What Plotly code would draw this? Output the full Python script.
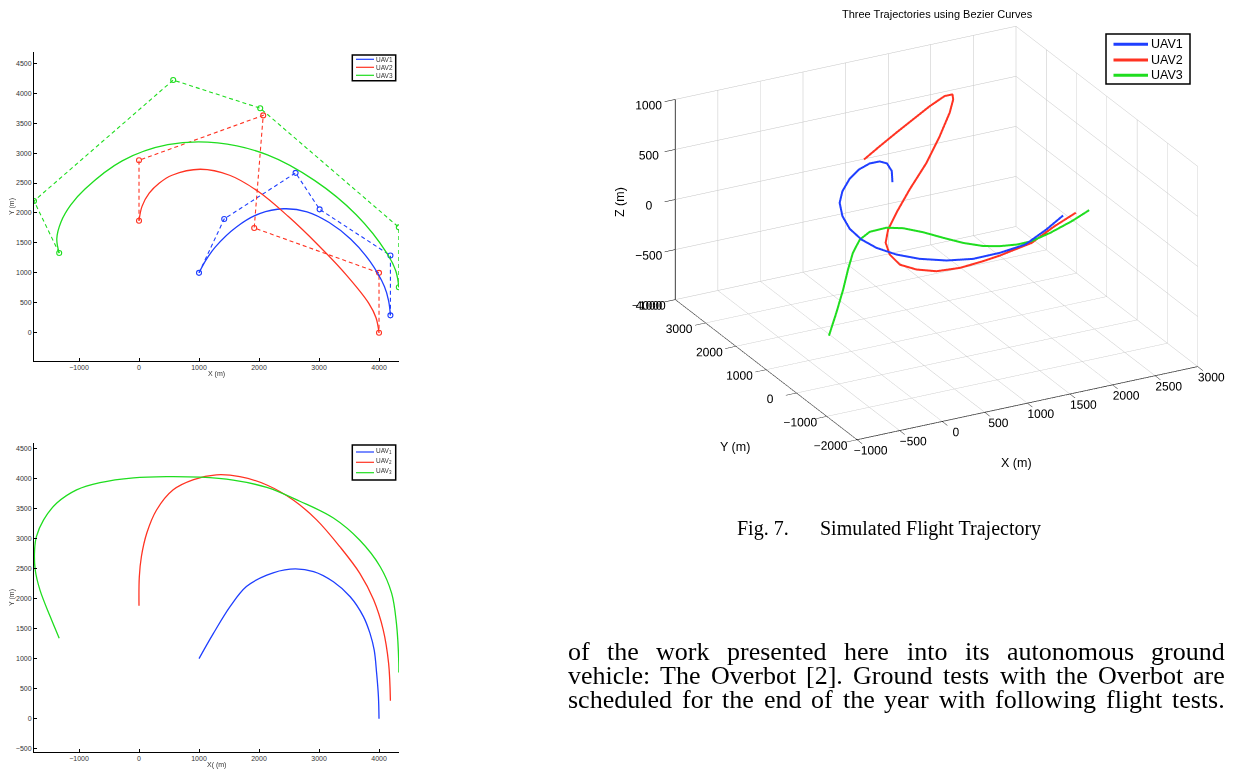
import plotly.graph_objects as go

# page body has an 8px margin, so the figure is drawn 8px smaller and coordinates are shifted
OFF = 8
W, H = 1248 - OFF, 769 - OFF

# ---------------- data: top-left plot (control polygons + Bezier paths) ----------------
ctrl1_x = [1000, 1420, 2610, 3010, 4190, 4190]
ctrl1_y = [1000, 1900, 2670, 2060, 1290, 290]
ctrl2_x = [0, 0, 2070, 1920, 4000, 4000]
ctrl2_y = [1870, 2880, 3630, 1750, 1000, 0]
ctrl3_x = [-1330, -1750, 570, 2020, 4330, 4330]
ctrl3_y = [1330, 2200, 4220, 3750, 1760, 760]

path1_x = [1000, 1120, 1270, 1630, 2010, 2410, 2800, 3170, 3530, 3850, 4090, 4160, 4190]
path1_y = [1000, 1220, 1430, 1770, 1990, 2070, 2020, 1840, 1560, 1190, 770, 530, 290]
path2_x = [0, 50, 170, 340, 550, 1020, 1510, 2000, 2490, 2980, 3450, 3830, 3950, 4000]
path2_y = [1870, 2110, 2330, 2500, 2630, 2730, 2630, 2350, 1940, 1470, 970, 490, 250, 0]
path3_x = [-1330, -1370, -1300, -1140, -900, -280, 480, 1310, 2140, 2930, 3620, 4130, 4280, 4330]
path3_y = [1330, 1570, 1850, 2130, 2400, 2870, 3140, 3170, 2970, 2540, 1970, 1330, 1030, 760]

# ---------------- data: bottom-left plot ----------------
b1_x = [1000, 1240, 1520, 1790, 2130, 2520, 2910, 3240, 3520, 3740, 3850, 3920, 3960, 3990, 4000]
b1_y = [1000, 1420, 1870, 2200, 2390, 2490, 2450, 2280, 2030, 1700, 1420, 1140, 760, 370, 0]
b2_x = [0, 5, 40, 130, 290, 570, 910, 1290, 1680, 2130, 2570, 2960, 3350, 3680, 3910, 4070, 4160, 4190]
b2_y = [1880, 2360, 2700, 3090, 3470, 3810, 3980, 4060, 4030, 3890, 3640, 3310, 2860, 2420, 1980, 1480, 920, 300]
b3_x = [-1330, -1480, -1650, -1730, -1740, -1710, -1590, -1370, -1040, -650, -90, 460, 1020, 1570,
        2130, 2680, 3240, 3680, 4020, 4210, 4290, 4330, 4330]
b3_y = [1340, 1700, 2140, 2480, 2810, 3030, 3310, 3590, 3810, 3930, 4010, 4030, 4020, 3970,
        3850, 3620, 3340, 2970, 2530, 2090, 1590, 920, 770]

# ---------------- data: 3D trajectories ----------------
u1_x = [838, 795, 704, 582, 429, 268, 123, 2, -66, -69, -19, 83, 224, 423, 661, 940, 1217, 1495, 1758, 1970, 2131]
u1_y = [2000, 1900, 1800, 1700, 1600, 1500, 1400, 1300, 1200, 1100, 1000, 900, 800, 700, 600, 500, 400, 300, 200, 100, 0]
u1_z = [304, 446, 562, 628, 659, 652, 609, 530, 450, 340, 228, 126, 40, -40, -103, -147, -158, -125, -67, 68, 202]

u2_x = [576, 807, 1051, 1294, 1537, 1761, 1899, 1847, 1749, 1572, 1356, 1101, 885, 727, 641, 629, 687, 824,
        1000, 1215, 1429, 1566, 1879, 2092, 2280]
u2_y = [2200, 2330, 2470, 2600, 2730, 2870, 3000, 2830, 2670, 2500, 2330, 2170, 2000, 1830, 1670, 1500, 1330,
        1170, 1000, 830, 670, 500, 330, 170, 0]
u2_z = [532, 592, 650, 708, 766, 793, 754, 753, 676, 514, 326, 144, -10, -110, -188, -264, -336, -372,
        -382, -348, -283, -212, -103, 63, 202]

u3_x = [-85, -27, 21, 50, 79, 128, 216, 383, 548, 754, 959, 1164, 1370, 1537, 1707, 1850, 2043, 2260, 2437]
u3_y = [1500, 1420, 1330, 1250, 1170, 1080, 1000, 920, 830, 750, 670, 580, 500, 420, 330, 250, 170, 80, 0]
u3_z = [-944, -708, -464, -250, -69, 75, 155, 184, 170, 111, 37, -31, -81, -94, -88, -62, 6, 102, 199]

names = ["UAV1", "UAV2", "UAV3"]
sub_names = ["UAV<sub>1</sub>", "UAV<sub>2</sub>", "UAV<sub>3</sub>"]
colors = ["#1f3fff", "#ff3322", "#1fdd1f"]

xticks2d = [-1000, 0, 1000, 2000, 3000, 4000]
yticks_top = [0, 500, 1000, 1500, 2000, 2500, 3000, 3500, 4000, 4500]
yticks_bot = [-500, 0, 500, 1000, 1500, 2000, 2500, 3000, 3500, 4000, 4500]
xticks3d = [-1000, -500, 0, 500, 1000, 1500, 2000, 2500, 3000]
yticks3d = [-2000, -1000, 0, 1000, 2000, 3000, 4000]
zticks3d = [-1000, -500, 0, 500, 1000]

caption = ["Fig. 7.", "Simulated Flight Trajectory"]
body = [
    "of the work presented here into its autonomous ground",
    "vehicle: The Overbot [2]. Ground tests with the Overbot are",
    "scheduled for the end of the year with following flight tests.",
]


def px(x):
    return (x - OFF) / W


def py(y):
    return (H - (y - OFF)) / H


fig = go.Figure()

# top-left
for cx, cy, c in [(ctrl1_x, ctrl1_y, colors[0]), (ctrl2_x, ctrl2_y, colors[1]), (ctrl3_x, ctrl3_y, colors[2])]:
    fig.add_trace(go.Scatter(x=cx, y=cy, mode="lines+markers", xaxis="x", yaxis="y",
                             line=dict(color=c, width=1.1, dash="4px,3px"),
                             marker=dict(symbol="circle-open", size=5, color=c, line=dict(width=1.1)),
                             showlegend=False, hoverinfo="skip"))
for cx, cy, c in [(path1_x, path1_y, colors[0]), (path2_x, path2_y, colors[1]), (path3_x, path3_y, colors[2])]:
    fig.add_trace(go.Scatter(x=cx, y=cy, mode="lines", xaxis="x", yaxis="y",
                             line=dict(color=c, width=1.3, shape="spline"),
                             showlegend=False, hoverinfo="skip"))

# bottom-left
for cx, cy, c in [(b1_x, b1_y, colors[0]), (b2_x, b2_y, colors[1]), (b3_x, b3_y, colors[2])]:
    fig.add_trace(go.Scatter(x=cx, y=cy, mode="lines", xaxis="x2", yaxis="y2",
                             line=dict(color=c, width=1.3, shape="spline"),
                             showlegend=False, hoverinfo="skip"))

# 3D
for (xs, ys, zs), n, c in zip([(u1_x, u1_y, u1_z), (u2_x, u2_y, u2_z), (u3_x, u3_y, u3_z)], names, colors):
    fig.add_trace(go.Scatter3d(x=xs, y=ys, z=zs, mode="lines", name=n, showlegend=False,
                               line=dict(color=c, width=4), scene="scene", hoverinfo="skip"))

axfont = dict(family="Liberation Sans, Arial, sans-serif", size=7, color="#333")
common_x = dict(range=[-1750, 4333], tickvals=xticks2d, showline=True, linecolor="black", linewidth=1,
                ticks="inside", ticklen=3, tickcolor="black", showgrid=False, zeroline=False,
                tickfont=axfont, fixedrange=True, automargin=False)
common_y = dict(showline=True, linecolor="black", linewidth=1, ticks="inside", ticklen=3,
                tickcolor="black", showgrid=False, zeroline=False, tickfont=axfont, fixedrange=True,
                automargin=False)

d3font = dict(family="Liberation Sans, Arial, sans-serif", size=12, color="black")
ax3 = dict(showbackground=False, showgrid=True, gridcolor="#c4c4c4", gridwidth=1, showline=True,
           linecolor="black", linewidth=1.5, ticks="outside", tickcolor="black",
           zeroline=False, showspikes=False, tickfont=d3font, title=dict(text=""), tickangle=0)

eye_dir = (-0.4263, -0.8079, 0.4068)
r = 2.0
k = 1.712  # zoom factor of the plot box

fig.update_layout(
    width=W, height=H, autosize=False,
    margin=dict(l=0, r=0, t=0, b=0),
    paper_bgcolor="white", plot_bgcolor="white",
    showlegend=False,
    xaxis=dict(domain=[px(34), px(399)], anchor="y", **common_x),
    yaxis=dict(domain=[py(361), py(51.7)], anchor="x", range=[-473, 4694], tickvals=yticks_top, **common_y),
    xaxis2=dict(domain=[px(34), px(399)], anchor="y2", **common_x),
    yaxis2=dict(domain=[py(751.7), py(443.3)], anchor="x2", range=[-549, 4584], tickvals=yticks_bot, **common_y),
    scene=dict(
        domain=dict(x=[px(625.4), px(1248)], y=[py(458.5), py(8.5)]),
        xaxis=dict(range=[-1000, 3000], tickvals=xticks3d, ticklen=12, **ax3),
        yaxis=dict(range=[-2000, 4000], tickvals=yticks3d, ticklen=11, **ax3),
        zaxis=dict(range=[-1000, 1000], tickvals=zticks3d, ticklen=6, **ax3),
        aspectmode="manual", aspectratio=dict(x=1.0 * k, y=1.011 * k, z=0.569 * k),
        camera=dict(eye=dict(x=eye_dir[0] * r, y=eye_dir[1] * r, z=eye_dir[2] * r),
                    up=dict(x=0, y=0, z=1), center=dict(x=0, y=0, z=0),
                    projection=dict(type="orthographic")),
        bgcolor="white",
    ),
)

ann = []
shapes = []
small = dict(family="Liberation Sans, Arial, sans-serif", size=7, color="#333")
# 2D axis titles
ann.append(dict(x=px(216), y=py(374), text="X (m)", font=small))
ann.append(dict(x=px(12), y=py(207), text="Y (m)", font=small, textangle=-90))
ann.append(dict(x=px(216), y=py(765), text="X( (m)", font=small))
ann.append(dict(x=px(12), y=py(598), text="Y (m)", font=small, textangle=-90))

# legends of the 2D plots
leg_font = dict(family="Liberation Sans, Arial, sans-serif", size=6.5, color="#333")
for (top, bot, rows, labels, dy) in [(55, 80.7, [59.3, 67.3, 75.3], names, 0),
                                     (445, 480, [452, 462.3, 472.7], sub_names, -1.5)]:
    shapes.append(dict(type="rect", xref="paper", yref="paper", x0=px(352.3), x1=px(395.7),
                       y0=py(bot), y1=py(top), line=dict(color="black", width=1.5), fillcolor="white"))
    for rrow, lab, c in zip(rows, labels, colors):
        shapes.append(dict(type="line", xref="paper", yref="paper", x0=px(356), x1=px(374),
                           y0=py(rrow), y1=py(rrow), line=dict(color=c, width=1.2)))
        ann.append(dict(x=px(376), y=py(rrow + dy), text=lab, font=leg_font, xanchor="left"))

# legend of the 3D plot
shapes.append(dict(type="rect", xref="paper", yref="paper", x0=px(1106), x1=px(1190),
                   y0=py(84), y1=py(34), line=dict(color="black", width=1.5), fillcolor="white"))
for rrow, lab, c in zip([44.3, 60, 75.3], names, colors):
    shapes.append(dict(type="line", xref="paper", yref="paper", x0=px(1113.5), x1=px(1148),
                       y0=py(rrow), y1=py(rrow), line=dict(color=c, width=3)))
    ann.append(dict(x=px(1151), y=py(rrow), text=lab, xanchor="left",
                    font=dict(family="Liberation Sans, Arial, sans-serif", size=12.5, color="black")))

# 3D title and axis titles
f3 = dict(family="Liberation Sans, Arial, sans-serif", size=12.5, color="black")
ann.append(dict(x=px(937), y=py(14), text="Three Trajectories using Bezier Curves",
                font=dict(family="Liberation Sans, Arial, sans-serif", size=11, color="black")))
ann.append(dict(x=px(1016), y=py(463), text="X (m)", font=f3))
ann.append(dict(x=px(735), y=py(447), text="Y (m)", font=f3))
ann.append(dict(x=px(620), y=py(202), text="Z (m)", font=f3, textangle=-90))

# caption
serif = "Liberation Serif, Times New Roman, serif"
ann.append(dict(x=px(737), y=py(528), text=caption[0], xanchor="left",
                font=dict(family=serif, size=20, color="black")))
ann.append(dict(x=px(820), y=py(528), text=caption[1], xanchor="left",
                font=dict(family=serif, size=20, color="black")))

# body text, justified between two margins (Times metrics, 1/1000 em)
tw = {' ': 250, '.': 250, ':': 278, '[': 333, ']': 333, '2': 500,
      'a': 444, 'b': 500, 'c': 444, 'd': 500, 'e': 444, 'f': 333, 'g': 500, 'h': 500, 'i': 278,
      'j': 278, 'k': 500, 'l': 278, 'm': 778, 'n': 500, 'o': 500, 'p': 500, 'r': 333, 's': 389,
      't': 278, 'u': 500, 'v': 500, 'w': 722, 'y': 500, 'G': 722, 'O': 722, 'T': 611}
fs_body = 26
left_edge, right_edge = 568, 1225
for yy, line in zip([651, 675, 699], body):
    words = line.split(" ")
    widths = [sum(tw.get(ch, 500) for ch in wd) * fs_body / 1000 for wd in words]
    gap = (right_edge - left_edge - sum(widths)) / (len(words) - 1)
    xx = left_edge
    for wd, wdt in zip(words, widths):
        ann.append(dict(x=px(xx), y=py(yy), text=wd, xanchor="left",
                        font=dict(family=serif, size=fs_body, color="black")))
        xx += wdt + gap

for a in ann:
    a.setdefault("xref", "paper")
    a.setdefault("yref", "paper")
    a.setdefault("showarrow", False)
    a.setdefault("xanchor", "center")
    a.setdefault("yanchor", "middle")
    if a["xanchor"] == "left":
        a["borderpad"] = 0
        a["xshift"] = -1

fig.update_layout(annotations=ann, shapes=shapes)

fig.write_html("out.html")
